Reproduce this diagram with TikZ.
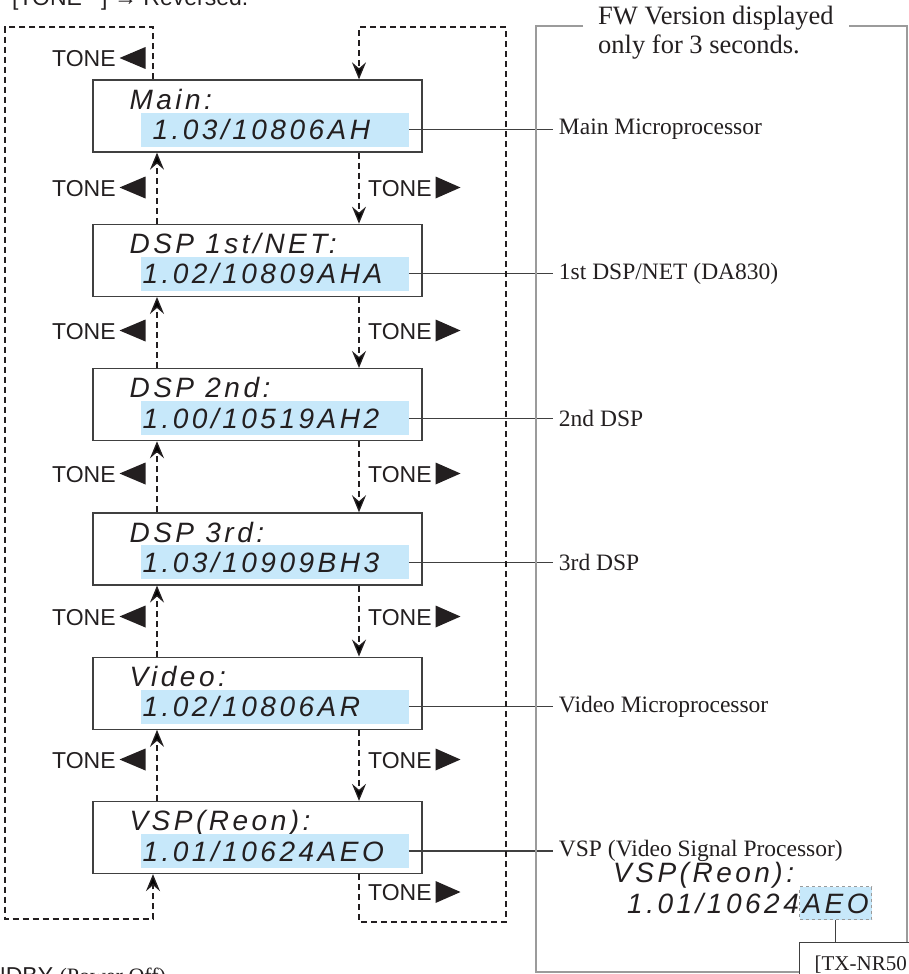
\documentclass[tikz,border=0pt]{standalone}
\usepackage{fontspec}
\setmainfont{Liberation Serif}
\setsansfont{Liberation Sans}
\newfontfamily\lcdfont{Liberation Sans}[LetterSpace=12.5]
\usetikzlibrary{positioning, arrows.meta}

\definecolor{ink}{RGB}{35,31,32}
\definecolor{lcdblue}{RGB}{199,232,250}
\definecolor{boxgray}{RGB}{64,64,64}
\definecolor{framegray}{RGB}{155,155,155}

\tikzstyle{lcd} = [draw=boxgray, line width=1.3pt, rectangle, minimum width=329pt, minimum height=72pt, inner sep=0pt]
\tikzstyle{val} = [fill=lcdblue, anchor=north west, text width=264pt, align=left, inner xsep=2pt, inner ysep=0pt, minimum height=34pt, text=ink, font=\lcdfont\itshape\fontsize{28}{30}\selectfont]
\tikzstyle{ttl} = [anchor=base west, inner sep=0pt, text=ink, font=\lcdfont\itshape\fontsize{28}{30}\selectfont]
\tikzstyle{lab} = [inner xsep=6pt, inner ysep=0pt, text=ink, font=\fontsize{23.5}{26}\selectfont]
\tikzstyle{tone} = [anchor=west, inner sep=0pt, text=ink, font=\sffamily\fontsize{23}{25}\selectfont]
\tikzstyle{dashline} = [draw=ink, line width=1.4pt, dash pattern=on 6pt off 4pt]
\tikzstyle{leader} = [draw=boxgray, line width=1.2pt]
\tikzstyle{fwframe} = [draw=framegray, line width=2pt]

\newcommand\trl{\,\tikz[baseline=0pt]\fill[ink] (0pt,8.5pt) -- (26pt,19.5pt) -- (26pt,-2.5pt) -- cycle;}
\newcommand\trr{\,\tikz[baseline=0pt]\fill[ink] (0pt,-2.5pt) -- (25pt,8.5pt) -- (0pt,19.5pt) -- cycle;}

\begin{document}
\begin{tikzpicture}[x=1pt,y=-1pt,>={Stealth[length=17pt,width=14pt,inset=6pt]}]
\useasboundingbox (0,0) rectangle (908,974);

% display boxes
\node [lcd] (main) at (257.5,116) {};
\node [lcd, below=71pt of main] (dsp1) {};
\node [lcd, below=71pt of dsp1] (dsp2) {};
\node [lcd, below=71pt of dsp2] (dsp3) {};
\node [lcd, below=71pt of dsp3] (video) {};
\node [lcd, below=71pt of video] (vsp) {};

\node [ttl] (maint) at ([shift={(37,30)}]main.north west) {Main:};
\node [val] (mainv) at ([shift={(48,33)}]main.north west) {\hspace*{10pt}1.03/10806AH};
\node [ttl] (dsp1t) at ([shift={(37,30)}]dsp1.north west) {DSP 1st/NET:};
\node [val] (dsp1v) at ([shift={(48,33)}]dsp1.north west) {1.02/10809AHA};
\node [ttl] (dsp2t) at ([shift={(37,30)}]dsp2.north west) {DSP 2nd:};
\node [val] (dsp2v) at ([shift={(48,33)}]dsp2.north west) {1.00/10519AH2};
\node [ttl] (dsp3t) at ([shift={(37,30)}]dsp3.north west) {DSP 3rd:};
\node [val] (dsp3v) at ([shift={(48,33)}]dsp3.north west) {1.03/10909BH3};
\node [ttl] (videot) at ([shift={(37,30)}]video.north west) {Video:};
\node [val] (videov) at ([shift={(48,33)}]video.north west) {1.02/10806AR};
\node [ttl] (vspt) at ([shift={(37,30)}]vsp.north west) {VSP(Reon):};
\node [val] (vspv) at ([shift={(48,33)}]vsp.north west) {1.01/10624AEO};

% processor names
\node [lab, right=144pt of mainv] (mainl) {Main Microprocessor};
\node [lab, right=144pt of dsp1v] (dsp1l) {1st DSP/NET (DA830)};
\node [lab, right=144pt of dsp2v] (dsp2l) {2nd DSP};
\node [lab, right=144pt of dsp3v] (dsp3l) {3rd DSP};
\node [lab, right=144pt of videov] (videol) {Video Microprocessor};
\node [lab, right=144pt of vspv] (vspl) {VSP (Video Signal Processor)};

\draw [leader] (mainv) -- (mainl);
\draw [leader] (dsp1v) -- (dsp1l);
\draw [leader] (dsp2v) -- (dsp2l);
\draw [leader] (dsp3v) -- (dsp3l);
\draw [leader] (videov) -- (videol);
\draw [leader] (vspv) -- (vspl);

% key labels
\node [tone] (tl0) at (52,58) {TONE\trl};
\node [tone] (tl1) at (52,187.5) {TONE\trl};
\node [tone] (tl2) at (52,330.5) {TONE\trl};
\node [tone] (tl3) at (52,473.5) {TONE\trl};
\node [tone] (tl4) at (52,616.5) {TONE\trl};
\node [tone] (tl5) at (52,759.5) {TONE\trl};
\node [tone] (tr1) at (368,187.5) {TONE\trr};
\node [tone] (tr2) at (368,330.5) {TONE\trr};
\node [tone] (tr3) at (368,473.5) {TONE\trr};
\node [tone] (tr4) at (368,616.5) {TONE\trr};
\node [tone] (tr5) at (368,759.5) {TONE\trr};
\node [tone] (tr6) at (368,892) {TONE\trr};

% arrows
\coordinate (upx) at (153,0);
\coordinate (upy) at (157,0);
\coordinate (dnx) at (359,0);
\coordinate (lt) at (5,27);
\coordinate (lb) at (5,919);
\coordinate (rt) at (506,27);
\coordinate (rb) at (506,922);

\draw [dashline,->] (dsp1.north -| upy) -- (main.south -| upy);
\draw [dashline,->] (dsp2.north -| upy) -- (dsp1.south -| upy);
\draw [dashline,->] (dsp3.north -| upy) -- (dsp2.south -| upy);
\draw [dashline,->] (video.north -| upy) -- (dsp3.south -| upy);
\draw [dashline,->] (vsp.north -| upy) -- (video.south -| upy);
\draw [dashline,->] (main.south -| dnx) -- (dsp1.north -| dnx);
\draw [dashline,->] (dsp1.south -| dnx) -- (dsp2.north -| dnx);
\draw [dashline,->] (dsp2.south -| dnx) -- (dsp3.north -| dnx);
\draw [dashline,->] (dsp3.south -| dnx) -- (video.north -| dnx);
\draw [dashline,->] (video.south -| dnx) -- (vsp.north -| dnx);
\draw [dashline,->] (main.north -| upx) |- (lt) |- (lb -| upx) -- (vsp.south -| upx);
\draw [dashline,->] (vsp.south -| dnx) |- (rb) -- (rt) -| (main.north -| dnx);

% FW version frame
\node [anchor=north west, align=left, inner xsep=15pt, inner ysep=0pt, text=ink, font=\fontsize{26.5}{28.5}\selectfont] (fwnote) at (583,6) {FW Version displayed\\only for 3 seconds.};
\draw [fwframe] (fwnote.west |- 0,26.5) -| (536,972) -| (907,26.5) -- (fwnote.east |- 0,26.5);

\node [ttl] (bigt) at (613,882) {VSP(Reon):};
\node [ttl] (bigv) at (627,913) {1.01/10624};
\node [ttl, fill=lcdblue, draw=framegray, line width=1pt, dashed, inner xsep=3pt, inner ysep=6.5pt] (bigh) at (bigv.base east) {AEO\hspace{6pt}};
\node [anchor=north west, draw=boxgray, fill=white, line width=1.3pt, text width=130pt, align=left, inner xsep=15pt, inner ysep=13pt, text=ink, font=\fontsize{21}{23}\selectfont] (model) at (799,942) {[TX-NR50};
\draw [leader] (bigh.south) -- (bigh.south |- model.north);

% cut-off page text
\node [anchor=base west, inner sep=0pt, text=ink, font=\sffamily\fontsize{23}{25}\selectfont] (topnote) at (12,6) {[TONE --] → Reversed.};
\node [anchor=base west, inner sep=0pt, text=ink, font=\sffamily\fontsize{23}{25}\selectfont] (offnote) at (-54,983.5) {STANDBY {\rmfamily\fontsize{22}{24}\selectfont(Power Off)}};
\end{tikzpicture}
\end{document}
